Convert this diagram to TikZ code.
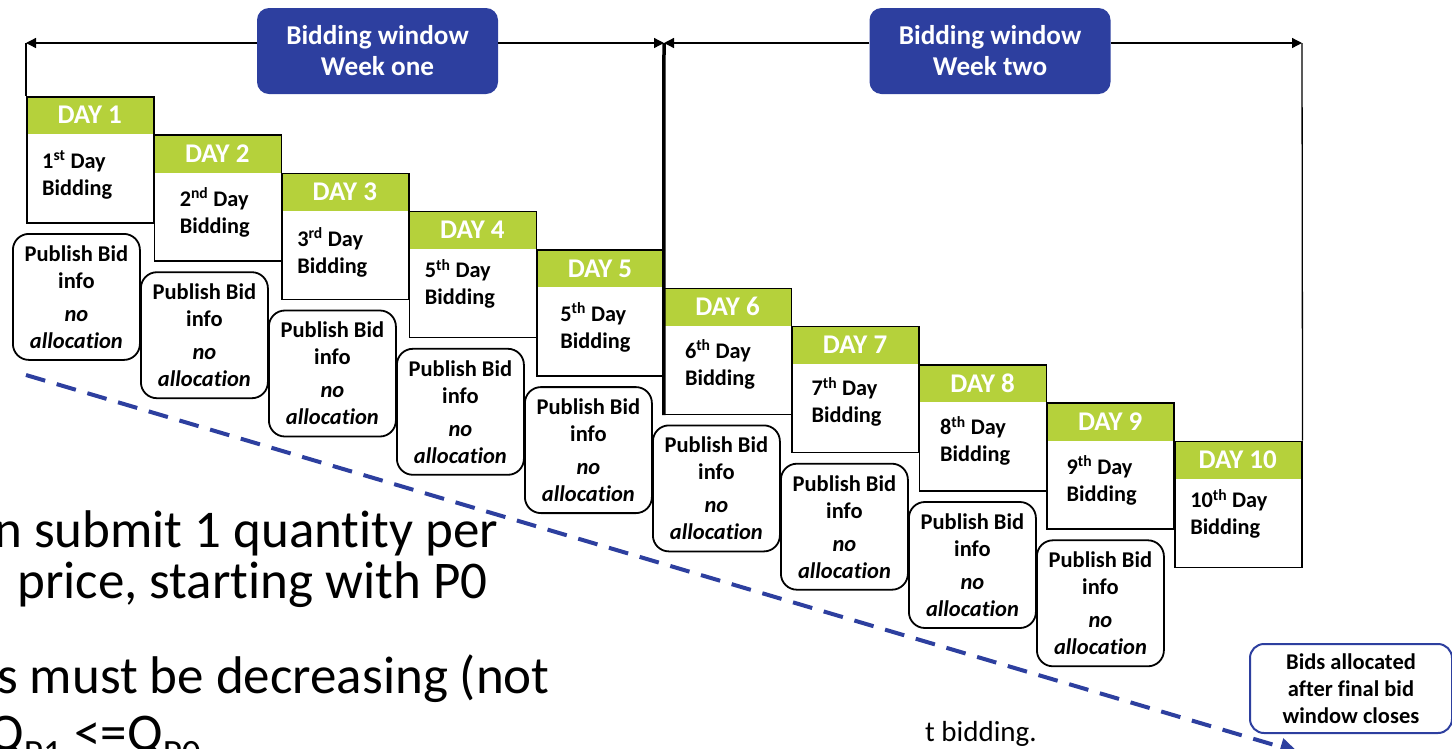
\documentclass[tikz,border=0pt]{standalone}
\usepackage{fontspec}
\setmainfont{Carlito}[Ligatures=NoCommon]
\usetikzlibrary{arrows.meta}
\definecolor{lblue}{RGB}{45,63,159}
\definecolor{dgreen}{RGB}{181,209,59}
\newcommand\fsz[2]{\fontsize{#1}{#2}\selectfont}
\begin{document}
\begin{tikzpicture}[x=1pt,y=-1pt,
  weeklabel/.style={fill=lblue,rounded corners=12pt,minimum width=241pt,minimum height=86pt,text=white,font=\fsz{27.2}{31}\bfseries,align=center,inner sep=0pt},
  arr/.style={line width=1.3pt,-{Triangle[length=10pt,width=10pt]}},
  dayhead/.style={fill=dgreen,minimum width=127pt,minimum height=38pt,anchor=north west,inner sep=0pt,text=white,font=\fsz{27}{30}\bfseries},
  daybox/.style={draw=black,line width=1.5pt,minimum width=127pt,minimum height=126pt,anchor=north west,inner sep=0pt},
  daytext/.style={anchor=west,align=left,font=\fsz{22.3}{27}\bfseries,inner sep=0pt},
  pubbox/.style={draw=black,line width=1.8pt,rounded corners=16pt,minimum width=127pt,minimum height=126pt,anchor=north west,align=center,font=\fsz{22.5}{27}\bfseries,inner sep=0pt},
  bgtext/.style={anchor=base west,inner sep=0pt,font=\fsz{53}{60}},
  dashline/.style={draw=lblue,line width=4pt,dash pattern=on 20pt off 12pt,-{Triangle[length=18pt,width=17pt]}},
  bidsbox/.style={draw=lblue,fill=white,line width=2pt,rounded corners=14pt,minimum width=202pt,minimum height=89pt,align=center,font=\fsz{22.5}{27}\bfseries,inner sep=0pt}
]
\useasboundingbox (0,0) rectangle (1452,748);
\clip (0,0) rectangle (1452,748);

% background slide text
\node[bgtext] (bg1) at (-6,547) {n submit 1 quantity per};
\node[bgtext] (bg2) at (17,598) {price, starting with P0};
\node[bgtext] (bg3) at (-3,693) {s must be decreasing (not};
\node[bgtext] (bg4) at (-12,750) {Q\textsubscript{P1} <=Q\textsubscript{P0}};
\node[anchor=base west,inner sep=0pt,font=\fsz{29}{32}] (bg5) at (925,741) {t bidding.};

% week labels and top lines
\coordinate (L) at (26,43);
\coordinate (M) at (664,43);
\coordinate (R) at (1302,43);
\node[weeklabel] (w1) at (377.5,51) {Bidding window\\Week one};
\node[weeklabel] (w2) at (990,51) {Bidding window\\Week two};

% days
\foreach \k/\ord/\dx/\dy in {1/1\textsuperscript{st}/16/79, 2/2\textsuperscript{nd}/26/78, 3/3\textsuperscript{rd}/16/80, 4/5\textsuperscript{th}/16/73, 5/5\textsuperscript{th}/24/78, 6/6\textsuperscript{th}/21/77, 7/7\textsuperscript{th}/20/76, 8/8\textsuperscript{th}/21/77, 9/9\textsuperscript{th}/20/78, 10/10\textsuperscript{th}/16/73} {
  \pgfmathsetmacro\xl{26+127.56*(\k-1)}
  \pgfmathsetmacro\yt{96+38.3*(\k-1)}
  \node[dayhead] (hd\k) at (\xl,\yt) {DAY \k};
  \node[daybox] (day\k) at (\xl,\yt) {};
  \node[daytext] (txt\k) at (\xl+\dx,\yt+\dy) {\ord{} Day\\Bidding};
}
\foreach \k in {1,...,9} {
  \pgfmathsetmacro\px{12+128*(\k-1)}
  \pgfmathsetmacro\py{233+38.3*(\k-1)}
  \node[pubbox] (pub\k) at (\px,\py) {Publish Bid\\info\\[6pt]\textit{no}\\\textit{allocation}};
}

\draw[arr] (w1.west |- L) -- (L);
\draw[arr] (w1.east |- M) -- (M);
\draw[arr] (w2.west |- M) -- (M);
\draw[arr] (w2.east |- R) -- (R);
\draw[line width=1.3pt] (L) -- (day1.north west);
\draw[line width=1.3pt] (R) -- (day10.north east);
\draw[line width=3.5pt] (M) -- (day6.south west);

% final allocation
\node[bidsbox] (bids) at (1351,688.5) {Bids allocated\\after final bid\\window closes};
\coordinate (ds) at (26,375);
\coordinate (de) at (1298,752);
\draw[dashline] (ds) -- (de);
\end{tikzpicture}
\end{document}
